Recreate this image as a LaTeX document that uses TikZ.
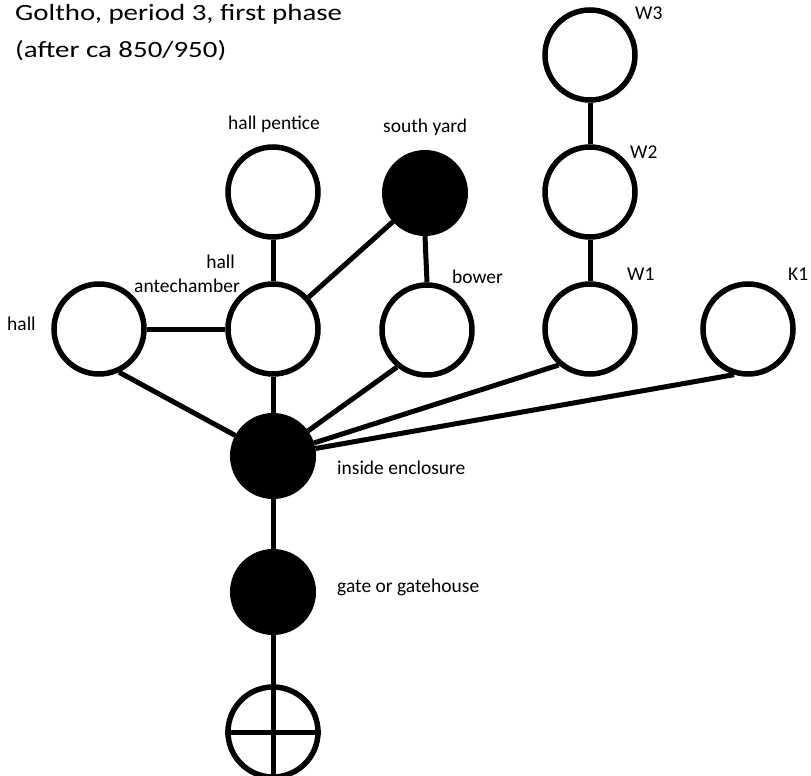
\documentclass[tikz,border=0pt]{standalone}
\usepackage{fontspec}
\setmainfont{Carlito}
\newfontfamily\headfont{Carlito}[FakeStretch=1.24]

\begin{document}
\begin{tikzpicture}[x=1pt,y=-1pt,
  openroom/.style={circle,draw=black,fill=white,line width=5.5pt,minimum size=90pt,inner sep=0pt},
  darkroom/.style={circle,draw=black,fill=black,line width=5pt,minimum size=81pt,inner sep=0pt},
  link/.style={draw=black,line width=5pt},
  lbl/.style={font=\fontsize{19.5}{24}\selectfont,inner sep=0pt,anchor=base west},
  lble/.style={lbl,anchor=base east},
  head/.style={font=\headfont\fontsize{23.3}{36}\selectfont,inner sep=0pt,anchor=base west},
]
\useasboundingbox (0,0) rectangle (811,776);

% title
\node[head] (title1) at (15,21) {Goltho, period 3, first phase};
\node[head] (title2) at (15,58) {(after ca 850/950)};

% rooms and spaces
\node[openroom] (w3) at (590,55) {};
\node[openroom] (w2) at (590,192) {};
\node[openroom] (w1) at (590,329) {};
\node[openroom] (k1) at (748,329) {};
\node[openroom] (pentice) at (273,192) {};
\node[darkroom] (yard) at (425,193) {};
\node[openroom] (hall) at (99,329) {};
\node[openroom] (ante) at (273,329) {};
\node[openroom] (bower) at (427,330) {};
\node[darkroom] (encl) at (273,456) {};
\node[darkroom] (gate) at (273,592) {};
\node[openroom] (outside) at (273,732) {};

% access links
\draw[link] (w3) -- (w2);
\draw[link] (w2) -- (w1);
\draw[link] (pentice) -- (ante);
\draw[link] (hall) -- (ante);
\draw[link] (ante) -- (yard);
\draw[link] (yard.south) -- (bower.north);
\draw[link] (hall.-65) -- (encl);
\draw[link] (ante) -- (encl);
\draw[link] (bower.-129) -- (encl);
\draw[link] (w1.-131) -- (encl);
\draw[link] (k1.-107) -- (encl);
\draw[link] (encl) -- (gate);
\draw[link] (gate) -- (outside.north);

% cross marking the outside
\draw[link] (outside.north) -- (outside.south);
\draw[link] (outside.west) -- (outside.east);

% labels
\node[lbl] (l-w3) at (635,20) {W3};
\node[lbl] (l-w2) at (630,158) {W2};
\node[lbl] (l-w1) at (627,280) {W1};
\node[lbl] (l-k1) at (788,280) {K1};
\node[lbl] (l-pentice) at (228,129) {hall pentice};
\node[lbl] (l-yard) at (383,132) {south yard};
\node[lble] (l-ante1) at (235,268) {hall};
\node[lble] (l-ante2) at (240,292) {antechamber};
\node[lbl] (l-hall) at (7,330) {hall};
\node[lbl] (l-bower) at (452,283) {bower};
\node[lbl] (l-encl) at (337,474) {inside enclosure};
\node[lbl] (l-gate) at (337,592) {gate or gatehouse};
\end{tikzpicture}
\end{document}
